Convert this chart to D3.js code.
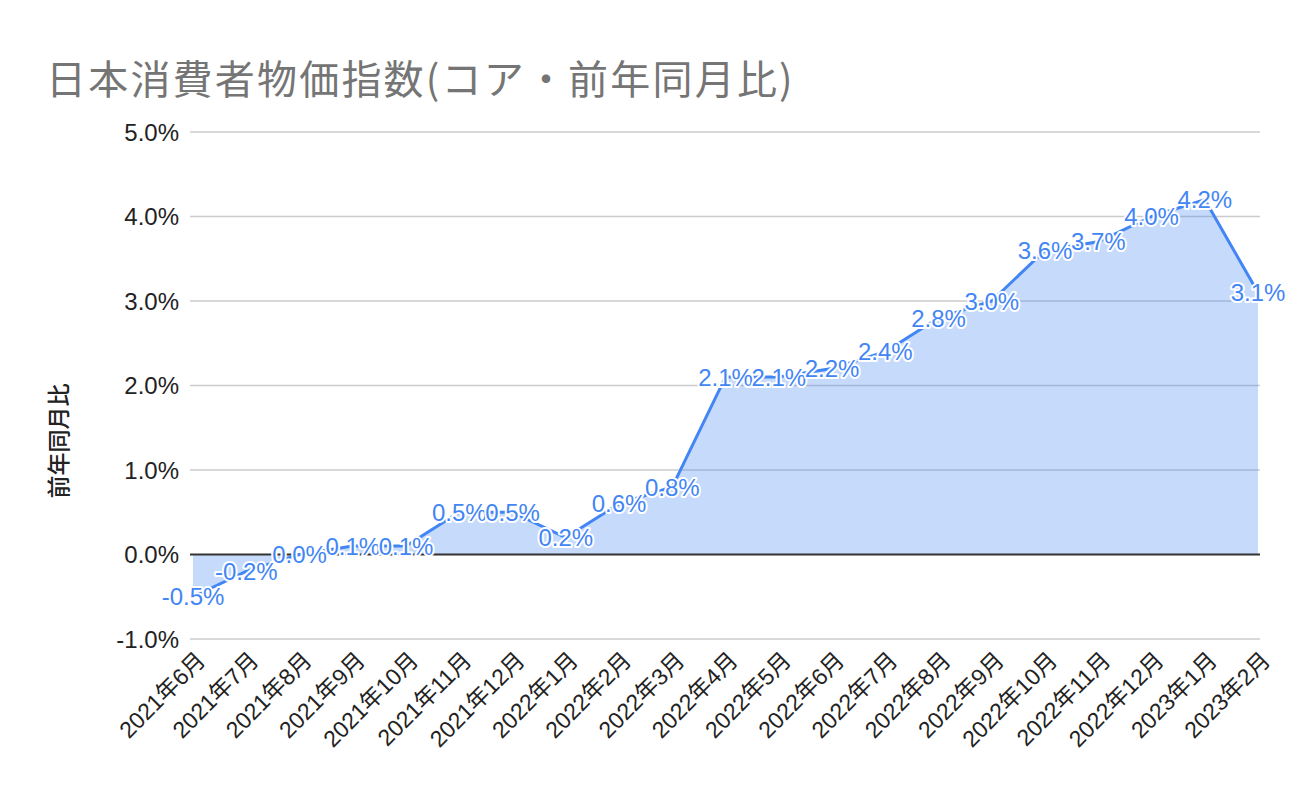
<!DOCTYPE html>
<html>
<head>
<meta charset="utf-8">
<script src="https://cdn.jsdelivr.net/npm/d3@7"></script>
<style>
  html, body { margin: 0; padding: 0; background: #fff; }
  svg { display: block; }
</style>
</head>
<body>
<svg id="chart" width="1300" height="804"></svg>
<script>
const categories = ["2021年6月","2021年7月","2021年8月","2021年9月","2021年10月","2021年11月","2021年12月",
  "2022年1月","2022年2月","2022年3月","2022年4月","2022年5月","2022年6月","2022年7月","2022年8月",
  "2022年9月","2022年10月","2022年11月","2022年12月","2023年1月","2023年2月"];
const values = [-0.5,-0.2,0.0,0.1,0.1,0.5,0.5,0.2,0.6,0.8,2.1,2.1,2.2,2.4,2.8,3.0,3.6,3.7,4.0,4.2,3.1];
const yTicks = [-1,0,1,2,3,4,5];
const title = "日本消費者物価指数(コア・前年同月比)";
const yTitle = "前年同月比";

const svg = d3.select("#chart");
const latin = "'Liberation Sans', Arial, 'Noto Sans CJK JP', sans-serif";
const cjk = "'Noto Sans CJK JP', sans-serif";
const pct = d => d3.format(".1f")(d).replace("\u2212", "-") + "%";

const x = d3.scalePoint().domain(categories).range([193, 1258]);
const y = d3.scaleLinear().domain([-1, 5]).range([639, 132]);

// title
svg.append("text").attr("x", 46).attr("y", 94)
  .attr("font-family", cjk).attr("font-size", 40).attr("font-weight", 400)
  .attr("letter-spacing", 2.2)
  .attr("fill", "#757575").text(title);

// gridlines
svg.append("g").selectAll("line").data(yTicks.filter(d => d !== 0)).join("line")
  .attr("x1", 190).attr("x2", 1260)
  .attr("y1", d => y(d)).attr("y2", d => y(d))
  .attr("stroke", "#cccccc").attr("stroke-width", 1.3);

// y axis labels
const yAxis = d3.axisLeft(y).tickValues(yTicks).tickSize(0).tickPadding(0).tickFormat(pct);
const ya = svg.append("g").attr("transform", "translate(179,0)").call(yAxis);
ya.select(".domain").remove();
ya.selectAll("text").attr("font-family", latin).attr("font-size", 24).attr("fill", "#222").attr("dy", "0.35em");

// y title
svg.append("text").attr("transform", "translate(67,441) rotate(-90)")
  .attr("text-anchor", "middle").attr("font-family", cjk).attr("font-size", 23)
  .attr("font-weight", 500).attr("fill", "#222").text(yTitle);

// area
const area = d3.area().x((d, i) => x(categories[i])).y0(y(0)).y1(d => y(d));
svg.append("path").datum(values).attr("d", area).attr("fill", "#4285F4").attr("fill-opacity", 0.3);

// zero line
svg.append("line").attr("x1", 190).attr("x2", 1260).attr("y1", y(0)).attr("y2", y(0))
  .attr("stroke", "#333").attr("stroke-width", 2);

// line
const line = d3.line().x((d, i) => x(categories[i])).y(d => y(d));
svg.append("path").datum(values).attr("d", line).attr("fill", "none")
  .attr("stroke", "#4285F4").attr("stroke-width", 3).attr("stroke-linejoin", "round");

// x labels
const xAxis = d3.axisBottom(x).tickSize(0).tickPadding(0);
const xa = svg.append("g").call(xAxis);
xa.select(".domain").remove();
xa.selectAll(".tick").attr("transform", d => `translate(${x(d) + 8},656)`);
xa.selectAll("text").attr("font-family", latin).attr("font-size", 23).attr("fill", "#222")
  .attr("text-anchor", "end").attr("y", 0).attr("dy", "0.35em")
  .attr("transform", "rotate(-45)");

// data labels
svg.append("g").selectAll("text").data(values).join("text")
  .attr("x", (d, i) => x(categories[i])).attr("y", d => y(d)).attr("dy", "0.36em")
  .attr("text-anchor", "middle").attr("font-family", latin).attr("font-size", 24)
  .attr("fill", "#4285F4").attr("stroke", "#fff").attr("stroke-width", 4)
  .attr("paint-order", "stroke").attr("stroke-linejoin", "round")
  .text(pct);
</script>
</body>
</html>
